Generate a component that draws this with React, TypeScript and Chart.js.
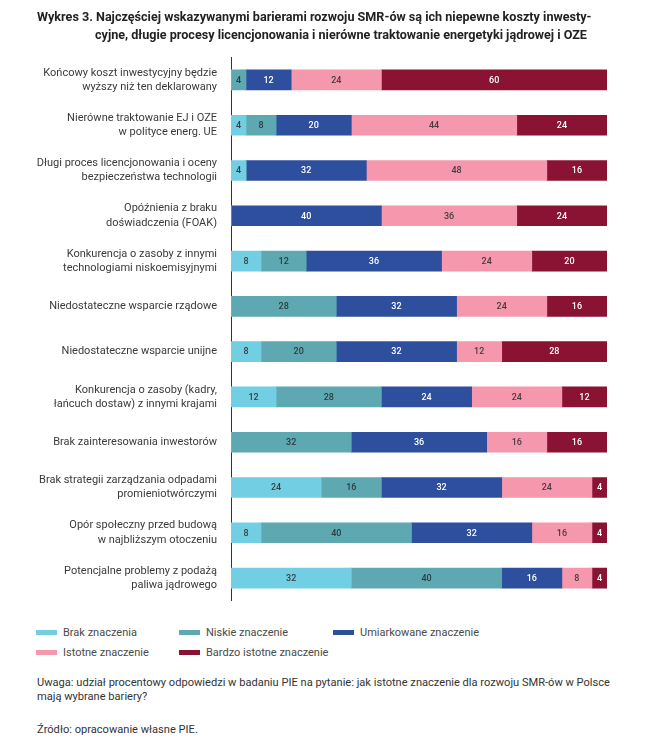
import { useEffect, useRef } from 'react'
import { Chart, registerables } from 'chart.js'

Chart.register(...registerables)

const categories = [
  ['Końcowy koszt inwestycyjny będzie', 'wyższy niż ten deklarowany'],
  ['Nierówne traktowanie EJ i OZE', 'w polityce energ. UE'],
  ['Długi proces licencjonowania i oceny', 'bezpieczeństwa technologii'],
  ['Opóźnienia z braku', 'doświadczenia (FOAK)'],
  ['Konkurencja o zasoby z innymi', 'technologiami niskoemisyjnymi'],
  'Niedostateczne wsparcie rządowe',
  'Niedostateczne wsparcie unijne',
  ['Konkurencja o zasoby (kadry,', 'łańcuch dostaw) z innymi krajami'],
  'Brak zainteresowania inwestorów',
  ['Brak strategii zarządzania odpadami', 'promieniotwórczymi'],
  ['Opór społeczny przed budową', 'w najbliższym otoczeniu'],
  ['Potencjalne problemy z podażą', 'paliwa jądrowego'],
]

const seriesNames = [
  'Brak znaczenia',
  'Niskie znaczenie',
  'Umiarkowane znaczenie',
  'Istotne znaczenie',
  'Bardzo istotne znaczenie',
]

const brak = [0, 4, 4, 0, 8, 0, 8, 12, 0, 24, 8, 32]
const niskie = [4, 8, 0, 0, 12, 28, 20, 28, 32, 16, 40, 40]
const umiarkowane = [12, 20, 32, 40, 36, 32, 32, 24, 36, 32, 32, 16]
const istotne = [24, 44, 48, 36, 24, 24, 12, 24, 16, 24, 16, 8]
const bardzo = [60, 24, 16, 24, 20, 16, 28, 12, 16, 4, 4, 4]

const seriesValues = [brak, niskie, umiarkowane, istotne, bardzo]
const colors = ['#72cfe3', '#5ea8b2', '#2d4f9e', '#f598ad', '#8a1232']
const labelColors = ['#3d3d3d', '#2f3b3d', '#ffffff', '#4a3a3e', '#ffffff']

const FONT = 'Roboto, "Noto Sans", sans-serif'

// legend grid: [x, y] per series
const legendSlots = [
  [36, 632],
  [179, 632],
  [333, 632],
  [36, 652],
  [179, 652],
]

const valueLabels = {
  id: 'valueLabels',
  afterDatasetsDraw(chart: Chart) {
    const { ctx } = chart
    ctx.save()
    ctx.font = `500 9px ${FONT}`
    ctx.textAlign = 'center'
    ctx.textBaseline = 'middle'
    chart.data.datasets.forEach((ds, i) => {
      const meta = chart.getDatasetMeta(i)
      meta.data.forEach((bar: any, j: number) => {
        const v = ds.data[j] as number
        if (!v) return
        const { x, base, y } = bar.getProps(['x', 'base', 'y'], true)
        ctx.fillStyle = labelColors[i]
        ctx.fillText(String(v), (x + base) / 2, y + 0.5)
      })
    })
    ctx.restore()
  },
}

function BarriersChart() {
  const canvasRef = useRef<HTMLCanvasElement | null>(null)
  const chartRef = useRef<Chart | null>(null)

  useEffect(() => {
    const ctx = canvasRef.current?.getContext('2d')
    if (!ctx) return

    chartRef.current = new Chart(ctx, {
      type: 'bar',
      data: {
        labels: categories,
        datasets: seriesNames.map((name, i) => ({
          label: name,
          data: seriesValues[i],
          backgroundColor: colors[i],
          borderWidth: 0,
          barThickness: 20,
        })),
      },
      options: {
        indexAxis: 'y',
        responsive: false,
        animation: false,
        maintainAspectRatio: false,
        layout: { padding: { top: 0, bottom: 0, left: 0, right: 64 } },
        plugins: {
          legend: { display: false },
          tooltip: { enabled: false },
        },
        scales: {
          x: { stacked: true, min: 0, max: 100, display: false },
          y: {
            stacked: true,
            grid: { display: false },
            border: { display: true, color: '#333333', width: 1 },
            ticks: {
              color: '#3a3a3a',
              padding: 6,
              font: { family: FONT, size: 11, lineHeight: 1.3 },
            },
            afterFit(scale: any) {
              scale.width = 231
            },
          },
        },
      },
      plugins: [valueLabels],
    })

    return () => {
      chartRef.current?.destroy()
      chartRef.current = null
    }
  }, [])

  return (
    <canvas
      ref={canvasRef}
      width={671}
      height={584}
      style={{ position: 'absolute', left: 0, top: 37, width: 671, height: 584 }}
    />
  )
}

export default function App() {
  return (
    <div
      style={{
        position: 'absolute',
        left: 0,
        top: 0,
        width: 671,
        height: 751,
        background: '#fff',
        overflow: 'hidden',
        fontFamily: FONT,
        color: '#333333',
      }}
    >
      <BarriersChart />

      <div
        style={{
          position: 'absolute',
          left: 37,
          top: 8,
          width: 620,
          fontSize: 12.6,
          fontWeight: 700,
          lineHeight: '18px',
          color: '#222',
          whiteSpace: 'nowrap',
        }}
      >
        <div>Wykres 3. Najczęściej wskazywanymi barierami rozwoju SMR-ów są ich niepewne koszty inwesty-</div>
        <div style={{ paddingLeft: 58 }}>
          cyjne, długie procesy licencjonowania i nierówne traktowanie energetyki jądrowej i OZE
        </div>
      </div>

      {seriesNames.map((name, i) => (
        <div
          key={name}
          style={{
            position: 'absolute',
            left: legendSlots[i][0],
            top: legendSlots[i][1] - 8,
            height: 16,
            display: 'flex',
            alignItems: 'center',
            fontSize: 11,
            color: '#4a4a4a',
            whiteSpace: 'nowrap',
          }}
        >
          <span style={{ display: 'inline-block', width: 21, height: 5, background: colors[i], marginRight: 6 }} />
          {name}
        </div>
      ))}

      <div style={{ position: 'absolute', left: 37, top: 676, width: 620, fontSize: 11.1, lineHeight: '14px', whiteSpace: 'nowrap' }}>
        Uwaga: udział procentowy odpowiedzi w badaniu PIE na pytanie: jak istotne znaczenie dla rozwoju SMR-ów w Polsce
        <br />
        mają wybrane bariery?
      </div>
      <div style={{ position: 'absolute', left: 37, top: 723, fontSize: 11.1, lineHeight: '14px' }}>
        Źródło: opracowanie własne PIE.
      </div>
    </div>
  )
}
